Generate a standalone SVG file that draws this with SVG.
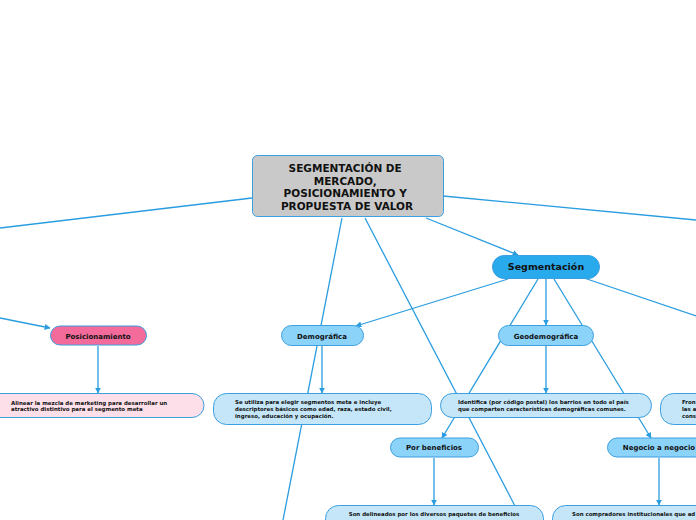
<svg xmlns="http://www.w3.org/2000/svg" width="696" height="520" viewBox="0 0 696 520">
<style>
.c{fill:none;stroke:#2a9de0;stroke-width:1.3}
.n{stroke:#3b9fe0;stroke-width:1}
.t{font-family:"DejaVu Sans",Verdana,sans-serif;font-weight:bold;fill:#111}
.s{font-size:5.45px}
.m{font-size:7px;text-anchor:middle}
</style>
<defs>
<marker id="a" viewBox="0 0 10 10" refX="9" refY="5" markerWidth="6" markerHeight="6" orient="auto" markerUnits="userSpaceOnUse">
<path d="M0,0 L10,5 L0,10 z" fill="#2a9de0"/>
</marker>
</defs>
<rect width="696" height="520" fill="#fff"/>
<g id="connectors">
<line class="c" x1="252" y1="198" x2="0" y2="228"/>
<line class="c" x1="443" y1="196" x2="696" y2="220"/>
<line class="c" x1="0" y1="318" x2="50" y2="328" marker-end="url(#a)"/>
<line class="c" x1="426" y1="218" x2="518" y2="255" marker-end="url(#a)"/>
<line class="c" x1="342" y1="218" x2="283" y2="520"/>
<line class="c" x1="365" y1="218" x2="515" y2="506"/>
<line class="c" x1="508" y1="279" x2="356" y2="326" marker-end="url(#a)"/>
<line class="c" x1="546" y1="279" x2="546" y2="325" marker-end="url(#a)"/>
<line class="c" x1="538" y1="279" x2="442" y2="438" marker-end="url(#a)"/>
<line class="c" x1="554" y1="279" x2="651" y2="438" marker-end="url(#a)"/>
<line class="c" x1="584" y1="278" x2="696" y2="316"/>
<line class="c" x1="98" y1="346" x2="98" y2="393" marker-end="url(#a)"/>
<line class="c" x1="322" y1="346" x2="322" y2="393" marker-end="url(#a)"/>
<line class="c" x1="546" y1="346" x2="546" y2="393" marker-end="url(#a)"/>
<line class="c" x1="434" y1="458" x2="434" y2="505" marker-end="url(#a)"/>
<line class="c" x1="659" y1="458" x2="659" y2="505" marker-end="url(#a)"/>
</g>
<g id="title">
<rect class="n" x="252.5" y="155.5" width="191" height="61" rx="5" fill="#c9c9c9"/>
<text class="t" font-size="10.5" text-anchor="middle" x="347">
<tspan x="347" y="172">SEGMENTACIÓN DE</tspan>
<tspan x="347" y="184.5">MERCADO,</tspan>
<tspan x="347" y="197">POSICIONAMIENTO Y</tspan>
<tspan x="347" y="209.5">PROPUESTA DE VALOR</tspan>
</text>
</g>
<g id="segmentacion">
<rect class="n" x="492.5" y="255.5" width="107" height="23" rx="11.5" fill="#29aaec"/>
<text class="t" font-size="9.5" text-anchor="middle" x="546" y="270">Segmentación</text>
</g>
<g id="posicionamiento">
<rect class="n" x="50.5" y="326" width="96" height="19" rx="9.5" fill="#f26b9b"/>
<text class="t m" x="98" y="338.5">Posicionamiento</text>
</g>
<g id="demografica">
<rect class="n" x="281.5" y="325.5" width="82" height="20" rx="10" fill="#8bd3f9"/>
<text class="t m" x="322" y="338.5">Demográfica</text>
</g>
<g id="geodemografica">
<rect class="n" x="498.5" y="325.5" width="95" height="20" rx="10" fill="#8bd3f9"/>
<text class="t m" x="546" y="338.5">Geodemográfica</text>
</g>
<g id="posicionamiento-texto">
<rect class="n" x="-20" y="393.5" width="224" height="24" rx="12" fill="#fddfe9"/>
<text class="t s"><tspan x="11" y="404.5">Alinear la mezcla de marketing para desarrollar un</tspan><tspan x="11" y="411">atractivo distintivo para el segmento meta</tspan></text>
</g>
<g id="demografica-texto">
<rect class="n" x="213.5" y="393.5" width="218" height="31" rx="13" fill="#c4e6f8"/>
<text class="t s"><tspan x="235" y="404">Se utiliza para elegir segmentos meta e incluye</tspan><tspan x="235" y="411">descriptores básicos como edad, raza, estado civil,</tspan><tspan x="235" y="418">ingreso, educación y ocupación.</tspan></text>
</g>
<g id="geodemografica-texto">
<rect class="n" x="440.5" y="393.5" width="211" height="24" rx="12" fill="#c4e6f8"/>
<text class="t s"><tspan x="458" y="404">Identifica (por código postal) los barrios en todo el país</tspan><tspan x="458" y="411">que comparten características demográficas comunes.</tspan></text>
</g>
<g id="derecha-texto">
<rect class="n" x="660.5" y="393.5" width="120" height="31" rx="13" fill="#c4e6f8"/>
<text class="t s"><tspan x="682" y="404">Fron</tspan><tspan x="682" y="411">las a</tspan><tspan x="682" y="418">cons</tspan></text>
</g>
<g id="por-beneficios">
<rect class="n" x="390.5" y="438" width="88" height="19" rx="9.5" fill="#8bd3f9"/>
<text class="t m" x="434" y="450">Por beneficios</text>
</g>
<g id="negocio-a-negocio">
<rect class="n" x="607.5" y="438" width="104" height="19" rx="9.5" fill="#8bd3f9"/>
<text class="t m" x="659" y="450">Negocio a negocio</text>
</g>
<g id="beneficios-texto">
<rect class="n" x="325.5" y="505.5" width="218" height="30" rx="13" fill="#c4e6f8"/>
<text class="t s" text-anchor="middle" x="434" y="516">Son delineados por los diversos paquetes de beneficios</text>
</g>
<g id="negocio-texto">
<rect class="n" x="552.5" y="505.5" width="218" height="30" rx="13" fill="#c4e6f8"/>
<text class="t s" x="572" y="516">Son compradores institucionales que ad</text>
</g>
</svg>
